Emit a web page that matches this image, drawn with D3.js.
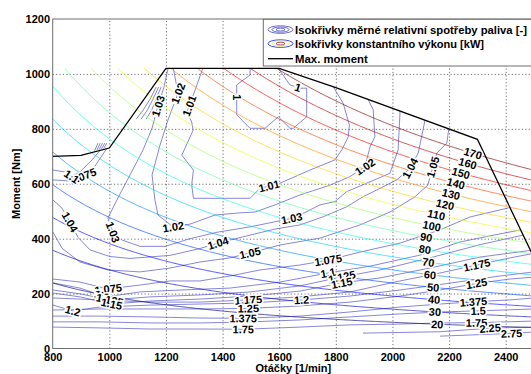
<!DOCTYPE html>
<html>
<head>
<meta charset="utf-8">
<script src="https://cdn.jsdelivr.net/npm/d3@7"></script>
<style>
  html, body { margin: 0; padding: 0; background: #fff; }
  svg { display: block; }
  text { font-family: "Liberation Sans", Arial, sans-serif; font-weight: bold; fill: #000; }
</style>
</head>
<body>
<svg id="chart" width="531" height="374"></svg>
<script>
// ---- axes ----
const speedTicks = [800, 1000, 1200, 1400, 1600, 1800, 2000, 2200, 2400];
const torqueTicks = [0, 200, 400, 600, 800, 1000, 1200];
const speedDomain = [800, 2500];
const torqueDomain = [0, 1200];

// ---- full-load (maximum torque) curve ----
const maxTorqueSpeed = [800, 900, 1000, 1200, 1600, 1800, 2300, 2500];
const maxTorqueValue = [700, 703, 730, 1020, 1020, 950, 762, 330];

// ---- constant power map [kW] ----
const powerLevels = [20, 30, 40, 50, 60, 70, 80, 90, 100, 110, 120, 130, 140, 150, 160, 170];
const powerLabelSpeed = [2158, 2150, 2147, 2144, 2133, 2127, 2115, 2119, 2139, 2155, 2186, 2207, 2224, 2242, 2266, 2284];
const powerMapTorqueTop = 1020;

// ---- relative specific fuel consumption isolines [rpm, Nm] ----
const bsfc1000 = [[[1497,1020],[1497,996],[1450,960],[1450,851],[1497,802],[1550,802],[1597,844],[1638,802],[1650,802],[1697,844],[1697,948],[1674,948],[1638,960],[1597,1020]]];
const bsfc1010 = [[[1330,1020],[1303,941],[1274,861],[1291,825],[1296,795],[1256,704],[1297,650],[1291,596],[1297,547],[1497,547],[1532,583],[1603,602],[1709,650],[1797,687],[1821,723],[1844,771],[1848,814],[1826,893],[1791,953]]];
const bsfc1020 = [[[1226,1020],[1243,930],[1207,832],[1179,741],[1151,632],[1161,541],[1172,486],[1225,443],[1285,453],[1373,486],[1462,494],[1515,497],[1585,523],[1673,559],[1780,595],[1850,626],[1903,662],[1921,735],[1938,771],[1932,869],[1914,907]]];
const bsfc1030 = [[[1207,1018],[1193,952],[1168,869],[1151,803],[1119,723],[1073,632],[1027,541],[995,475],[1013,424],[1045,395],[1108,372],[1197,372],[1285,400],[1384,424],[1497,443],[1644,474],[1685,492],[1744,523],[1797,535],[1838,571],[1909,602],[1991,638],[2020,723],[2027,865]]];
const bsfc1040 = [[[801,541],[833,511],[861,461],[890,404],[932,359],[1002,335],[1073,328],[1214,339],[1320,364],[1384,384],[1497,413],[1585,435],[1673,450],[1756,480],[1838,516],[1897,553],[1956,583],[2015,614],[2062,656],[2091,712],[2108,796],[2115,832]],
                  [[1183,952],[1165,910],[1150,869],[1130,835]]];
const bsfc1050 = [[[801,424],[833,365],[896,315],[995,286],[1108,279],[1214,293],[1320,315],[1426,330],[1497,348],[1603,377],[1744,402],[1885,450],[1991,497],[2079,552],[2125,595],[2143,661],[2157,712],[2192,748],[2199,800]],
                  [[1174,952],[1155,910],[1135,869],[1112,835]]];
const bsfc1075 = [[[801,614],[861,610],[907,628],[949,664],[990,727]],
                  [[801,253],[896,242],[995,217],[1108,231],[1214,246],[1320,246],[1426,264],[1532,286],[1673,304],[1773,322],[1885,351],[2027,384],[2168,432],[2274,479],[2410,512]],
                  [[1165,952],[1145,910],[1120,869],[1095,835]]];
const bsfc1100 = [[[801,650],[843,643],[867,626],[896,643],[939,687],[967,721]],
                  [[801,239],[896,220],[988,188],[1108,206],[1250,213],[1426,220],[1603,242],[1773,275],[1921,300],[2097,340],[2239,388],[2344,410],[2453,432]]];
const bsfc1125 = [[[801,213],[896,199],[1002,177],[1144,188],[1320,195],[1497,206],[1673,228],[1822,261],[1956,286],[2132,330],[2309,378],[2462,413]]];
const bsfc1150 = [[[801,202],[896,188],[1009,162],[1144,173],[1320,180],[1497,191],[1673,209],[1822,239],[1956,257],[2132,293],[2309,333],[2486,357]]];
const bsfc1175 = [[[801,184],[967,177],[1144,169],[1320,169],[1490,177],[1673,188],[1850,206],[2027,246],[2168,275],[2298,304],[2415,330],[2492,345]]];
const bsfc1200 = [[[801,158],[871,137],[967,151],[1144,158],[1320,162],[1497,166],[1679,177],[1850,191],[2027,213],[2203,238],[2380,264],[2500,279]],
                  [[948,720],[960,748]]];
const bsfc1250 = [[[801,140],[967,144],[1144,144],[1320,144],[1491,146],[1673,155],[1850,169],[2027,191],[2168,213],[2297,237],[2415,253],[2500,260]],
                  [[956,722],[968,748]]];
const bsfc1375 = [[[801,118],[967,118],[1144,115],[1320,111],[1473,110],[1673,118],[1850,133],[2027,151],[2168,162],[2286,170],[2415,177],[2500,184]],
                  [[964,724],[976,748]]];
const bsfc1500 = [[[801,97],[967,97],[1144,93],[1320,93],[1497,97],[1673,104],[1850,115],[2027,126],[2168,133],[2303,137],[2500,144]],
                  [[972,726],[984,748]]];
const bsfc1750 = [[[801,78],[967,75],[1144,71],[1320,71],[1473,70],[1673,78],[1850,86],[2027,89],[2168,93],[2297,94],[2500,100]],
                  [[980,728],[991,748]]];
const bsfc2250 = [[[1896,56],[2168,61],[2345,74],[2500,78]]];
const bsfc2750 = [[[2168,45],[2421,55],[2500,60]]];

// label anchors per isoline [rpm, Nm]
const bsfcLabel1000 = [[1455,915],[1664,945]];
const bsfcLabel1010 = [[1285,883],[1565,589]];
const bsfcLabel1020 = [[1244,929],[1226,442],[1903,662]];
const bsfcLabel1030 = [[1179,881],[1013,424],[1644,474]];
const bsfcLabel1040 = [[861,461],[1384,384],[2062,657]];
const bsfcLabel1050 = [[1497,348],[2143,661]];
const bsfcLabel1075 = [[907,628],[996,216],[1773,322]];
const bsfcLabel1100 = [[867,626],[975,195],[1773,274]];
const bsfcLabel1125 = [[1002,177],[1821,262]];
const bsfcLabel1150 = [[1008,161],[1821,237]];
const bsfcLabel1175 = [[1491,177],[2298,304]];
const bsfcLabel1200 = [[871,137],[1679,177]];
const bsfcLabel1250 = [[1491,146],[2297,237]];
const bsfcLabel1375 = [[1473,110],[2286,170]];
const bsfcLabel1500 = [[2303,137]];
const bsfcLabel1750 = [[1473,70],[2297,94]];
const bsfcLabel2250 = [[2345,74]];
const bsfcLabel2750 = [[2421,55]];

const fuelLevelText = ["1","1.01","1.02","1.03","1.04","1.05","1.075","1.1","1.125","1.15","1.175","1.2","1.25","1.375","1.5","1.75","2.25","2.75"];
const fuelLines = [bsfc1000,bsfc1010,bsfc1020,bsfc1030,bsfc1040,bsfc1050,bsfc1075,bsfc1100,bsfc1125,bsfc1150,bsfc1175,bsfc1200,bsfc1250,bsfc1375,bsfc1500,bsfc1750,bsfc2250,bsfc2750];
const fuelLabels = [bsfcLabel1000,bsfcLabel1010,bsfcLabel1020,bsfcLabel1030,bsfcLabel1040,bsfcLabel1050,bsfcLabel1075,bsfcLabel1100,bsfcLabel1125,bsfcLabel1150,bsfcLabel1175,bsfcLabel1200,bsfcLabel1250,bsfcLabel1375,bsfcLabel1500,bsfcLabel1750,bsfcLabel2250,bsfcLabel2750];

// ---- legend ----
const legendItems = ["Isokřivky měrné relativní spotřeby paliva [-]", "Isokřivky konstantního výkonu [kW]", "Max. moment"];

// ================= drawing =================
const svg = d3.select("#chart");
const plot = { left: 52.7, right: 534, top: 19, bottom: 348.5 };
const x = d3.scaleLinear().domain(speedDomain).range([plot.left, plot.right]);
const y = d3.scaleLinear().domain(torqueDomain).range([plot.bottom, plot.top]);

svg.append("defs").append("clipPath").attr("id", "plotClip")
  .append("rect").attr("x", plot.left).attr("y", plot.top)
  .attr("width", plot.right - plot.left).attr("height", plot.bottom - plot.top);

// dotted grid
const gx = svg.append("g").attr("transform", `translate(0,${plot.bottom})`)
  .call(d3.axisBottom(x).tickValues(speedTicks.slice(1)).tickSize(-(plot.bottom - plot.top)).tickFormat(""));
gx.select(".domain").remove();
gx.selectAll("line").attr("stroke", "#4d4d4d").attr("stroke-width", 0.8).attr("stroke-dasharray", "1.2,2.2");
const gy = svg.append("g").attr("transform", `translate(${plot.left},0)`)
  .call(d3.axisLeft(y).tickValues(torqueTicks.slice(1, -1)).tickSize(-(plot.right - plot.left)).tickFormat(""));
gy.select(".domain").remove();
gy.selectAll("line").attr("stroke", "#4d4d4d").attr("stroke-width", 0.8).attr("stroke-dasharray", "1.2,2.2");

const layer = svg.append("g").attr("clip-path", "url(#plotClip)");
const line = d3.line().x(d => x(d[0])).y(d => y(d[1]));

// fuel consumption isolines
fuelLines.forEach(parts => {
  parts.forEach(pts => {
    layer.append("path").attr("d", line(pts)).attr("fill", "none")
      .attr("stroke", "#5c5cca").attr("stroke-width", 0.9).attr("stroke-opacity", 0.82);
  });
});

// constant power isolines, coloured with the jet map
const jet = t => {
  const c = v => Math.max(0, Math.min(1, v));
  return d3.rgb(255 * c(1.5 - Math.abs(4 * t - 3)), 255 * c(1.5 - Math.abs(4 * t - 2)), 255 * c(1.5 - Math.abs(4 * t - 1)));
};
const powerColor = d3.scaleLinear().domain(d3.extent(powerLevels)).range([0, 1]);
const torqueAt = (p, n) => p * 30000 / (Math.PI * n);   // M = P / omega
const speedSamples = d3.range(speedDomain[0], speedDomain[1] + 0.1, 4);
powerLevels.forEach(p => {
  const n0 = Math.max(speedDomain[0], p * 30000 / (Math.PI * powerMapTorqueTop));
  const pts = [[n0, torqueAt(p, n0)]].concat(speedSamples.filter(n => n > n0).map(n => [n, torqueAt(p, n)]));
  layer.append("path").attr("d", line(pts)).attr("fill", "none")
    .attr("stroke", jet(powerColor(p))).attr("stroke-width", 0.9).attr("stroke-opacity", 0.75);
});

// full-load line
layer.append("path").attr("d", line(d3.zip(maxTorqueSpeed, maxTorqueValue)))
  .attr("fill", "none").attr("stroke", "#000").attr("stroke-width", 1.3);

// contour labels (text halo opens a gap in the lines)
function snap(parts, pt) {
  const P = [x(pt[0]), y(pt[1])];
  let best = null, bd = Infinity;
  parts.forEach(pts => {
    for (let i = 0; i < pts.length - 1; i++) {
      const a = [x(pts[i][0]), y(pts[i][1])], b = [x(pts[i + 1][0]), y(pts[i + 1][1])];
      const dx = b[0] - a[0], dy = b[1] - a[1];
      const L2 = dx * dx + dy * dy || 1;
      let t = ((P[0] - a[0]) * dx + (P[1] - a[1]) * dy) / L2;
      t = Math.max(0, Math.min(1, t));
      const qx = a[0] + t * dx, qy = a[1] + t * dy;
      const d = (qx - P[0]) ** 2 + (qy - P[1]) ** 2;
      if (d < bd) { bd = d; best = { x: qx, y: qy, ang: Math.atan2(dy, dx) * 180 / Math.PI }; }
    }
  });
  if (best.ang > 90) best.ang -= 180;
  if (best.ang < -90) best.ang += 180;
  return best;
}
const labelLayer = svg.append("g").attr("clip-path", "url(#plotClip)");
function addLabel(pos, txt) {
  labelLayer.append("text")
    .attr("transform", `translate(${pos.x},${pos.y}) rotate(${pos.ang})`)
    .attr("text-anchor", "middle").attr("dy", "0.36em")
    .attr("font-size", 11)
    .attr("stroke", "#fff").attr("stroke-width", 3).attr("paint-order", "stroke")
    .text(txt);
}
fuelLabels.forEach((labs, i) => labs.forEach(pt => addLabel(snap(fuelLines[i], pt), fuelLevelText[i])));
powerLevels.forEach((p, i) => {
  const n = powerLabelSpeed[i];
  const a = [x(n - 5), y(torqueAt(p, n - 5))], b = [x(n + 5), y(torqueAt(p, n + 5))];
  addLabel({ x: x(n), y: y(torqueAt(p, n)), ang: Math.atan2(b[1] - a[1], b[0] - a[0]) * 180 / Math.PI }, String(p));
});

// axis frame and tick labels
svg.append("rect").attr("x", plot.left).attr("y", plot.top)
  .attr("width", plot.right - plot.left).attr("height", plot.bottom - plot.top)
  .attr("fill", "none").attr("stroke", "#6e6e6e").attr("stroke-width", 1);

const ax = svg.append("g").attr("transform", `translate(0,${plot.bottom})`)
  .call(d3.axisBottom(x).tickValues(speedTicks).tickFormat(d3.format("d")).tickSize(0).tickPadding(4.5));
ax.select(".domain").remove();
ax.selectAll("text").attr("font-size", 11).attr("font-family", null);
const ay = svg.append("g").attr("transform", `translate(${plot.left},0)`)
  .call(d3.axisLeft(y).tickValues(torqueTicks).tickFormat(d3.format("d")).tickSize(0).tickPadding(2.6));
ay.select(".domain").remove();
ay.selectAll("text").attr("font-size", 11).attr("font-family", null);

svg.append("text").attr("x", (plot.left + plot.right) / 2).attr("y", 372)
  .attr("text-anchor", "middle").attr("font-size", 11).text("Otáčky [1/min]");
svg.append("text").attr("transform", `translate(20,${(plot.top + plot.bottom) / 2}) rotate(-90)`)
  .attr("text-anchor", "middle").attr("font-size", 11).text("Moment [Nm]");

// legend
const lg = svg.append("g");
lg.append("rect").attr("x", 263.3).attr("y", 19.3).attr("width", 270).attr("height", 46.7)
  .attr("fill", "#fff").attr("stroke", "#6e6e6e").attr("stroke-width", 1);
const rowY = [29.6, 43.6, 58.7];
const iconCx = 280.5;
[[12.5, 3.8], [8.5, 2.6], [4.5, 1.4]].forEach(([rx, ry]) => {
  lg.append("ellipse").attr("cx", iconCx).attr("cy", rowY[0]).attr("rx", rx).attr("ry", ry)
    .attr("fill", "none").attr("stroke", "#5c5cca").attr("stroke-width", 0.9);
});
[[12.5, 3.8, jet(0.1)], [8.5, 2.6, jet(0.55)], [4.5, 1.4, jet(0.95)]].forEach(([rx, ry, c]) => {
  lg.append("ellipse").attr("cx", iconCx).attr("cy", rowY[1]).attr("rx", rx).attr("ry", ry)
    .attr("fill", "none").attr("stroke", c).attr("stroke-width", 0.9).attr("stroke-opacity", 0.8);
});
lg.append("line").attr("x1", 268).attr("x2", 293).attr("y1", rowY[2]).attr("y2", rowY[2])
  .attr("stroke", "#000").attr("stroke-width", 1.3);
const legendWidths = [232, 189, 72.7];
legendItems.forEach((t, i) => {
  lg.append("text").attr("x", 295).attr("y", rowY[i]).attr("dy", "0.36em")
    .attr("font-size", 11).attr("textLength", legendWidths[i]).attr("lengthAdjust", "spacingAndGlyphs").text(t);
});
</script>
</body>
</html>
